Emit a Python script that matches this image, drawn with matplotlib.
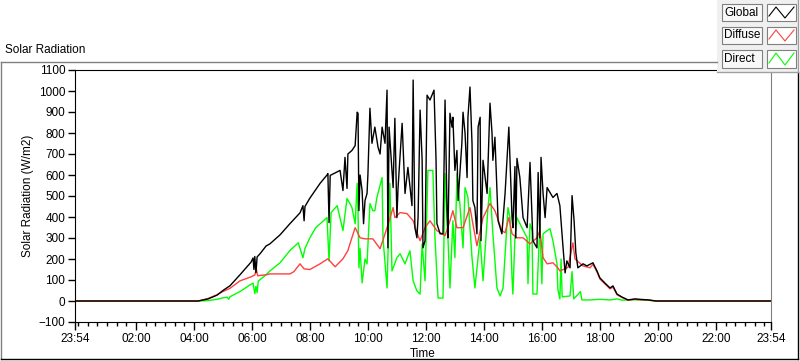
import matplotlib
matplotlib.use('Agg')
import matplotlib.pyplot as plt
from matplotlib.lines import Line2D
from matplotlib.patches import Rectangle
from matplotlib.ticker import FixedLocator

plt.rcParams['font.family'] = ['Liberation Sans', 'DejaVu Sans']
plt.rcParams['font.size'] = 8.5

# time of day in hours (-0.1 = 23:54 of the previous day), radiation in W/m2
GLOBAL_T = [-0.1, 4.15, 4.49, 4.80, 5.00, 5.24, 5.59, 5.97, 6.04, 6.07, 6.10, 6.14, 6.18, 6.28,
            6.49, 6.62, 6.97, 7.31, 7.66, 7.76, 7.80, 7.83, 8.00, 8.35, 8.59, 8.62, 8.66, 8.70,
            8.87, 9.04, 9.14, 9.21, 9.28, 9.31, 9.45, 9.56, 9.63, 9.66, 9.69, 9.73, 9.80, 9.85,
            9.90, 9.97, 10.00, 10.07, 10.14, 10.24, 10.35, 10.42, 10.49, 10.59, 10.66, 10.69,
            10.73, 10.87, 10.93, 11.00, 11.04, 11.18, 11.28, 11.38, 11.52, 11.56, 11.62, 11.69,
            11.73, 11.80, 11.87, 11.90, 11.97, 12.04, 12.14, 12.28, 12.35, 12.38, 12.49, 12.59,
            12.66, 12.73, 12.76, 12.83, 12.90, 12.93, 13.00, 13.07, 13.11, 13.24, 13.28, 13.35,
            13.42, 13.45, 13.52, 13.59, 13.62, 13.69, 13.76, 13.80, 13.87, 13.90, 13.97, 14.11,
            14.21, 14.28, 14.31, 14.38, 14.49, 14.62, 14.73, 14.86, 14.97, 15.00, 15.07, 15.10,
            15.14, 15.24, 15.35, 15.49, 15.59, 15.69, 15.83, 15.87, 15.93, 15.97, 16.04, 16.11,
            16.18, 16.28, 16.38, 16.52, 16.62, 16.73, 16.80, 16.86, 16.97, 17.04, 17.11, 17.17,
            17.24, 17.42, 17.55, 17.76, 17.90, 18.00, 18.17, 18.35, 18.45, 18.59, 18.76, 18.97,
            19.21, 19.38, 19.69, 19.93, 23.9]
GLOBAL_W = [0, 0, 10, 28, 50, 72, 125, 185, 205, 150, 212, 135, 210, 225,
            262, 272, 315, 368, 420, 454, 382, 450, 490, 560, 600, 607, 373, 598,
            610, 622, 526, 684, 536, 700, 717, 740, 899, 894, 430, 600, 526, 368,
            478, 512, 600, 918, 751, 828, 732, 700, 828, 751, 1004, 253,
            828, 540, 870, 397, 540, 846, 512, 636, 454, 1052, 349, 301,
            397, 909, 670, 253, 287, 980, 957, 1004, 670, 368, 320, 320,
            957, 430, 301, 894, 828, 875, 622, 717, 478, 751, 899, 799,
            588, 875, 1019, 751, 478, 445, 320, 828, 875, 287, 670, 512,
            942, 799, 670, 780, 382, 320, 512, 828, 397, 349, 640, 300,
            679, 588, 397, 349, 660, 287, 253, 612, 300, 684, 512, 397,
            540, 516, 493, 512, 454, 253, 134, 191, 158, 502, 382, 230,
            158, 177, 167, 182, 143, 110, 86, 62, 72, 33, 19, 5,
            10, 8, 5, 0, 0]

DIFFUSE_T = [-0.1, 4.15, 4.49, 4.80, 5.00, 5.24, 5.59, 5.97, 6.10, 6.15, 6.20, 6.49, 6.62, 7.31,
             7.45, 7.66, 7.80, 8.00, 8.35, 8.62, 8.87, 9.14, 9.31, 9.38, 9.56, 9.73, 9.90, 10.17,
             10.42, 10.66, 10.87, 10.93, 11.11, 11.35, 11.56, 11.73, 11.80, 11.97, 12.14, 12.38,
             12.66, 12.83, 12.93, 13.07, 13.28, 13.52, 13.62, 13.76, 13.97, 14.21, 14.38, 14.62,
             14.73, 14.86, 14.97, 15.14, 15.35, 15.59, 15.83, 15.93, 16.04, 16.18, 16.38, 16.55,
             16.62, 16.90, 17.07, 17.14, 17.42, 17.66, 17.76, 17.90, 18.00, 18.17, 18.35, 18.45,
             18.59, 18.76, 18.97, 19.21, 19.38, 19.69, 19.93, 23.9]
DIFFUSE_W = [0, 0, 12, 30, 45, 60, 96, 115, 124, 153, 120, 125, 129, 129,
             140, 177, 153, 150, 177, 201, 163, 201, 240, 272, 349, 301, 296, 296,
             249, 349, 445, 397, 421, 416, 382, 311, 287, 349, 382, 335,
             311, 382, 430, 349, 349, 445, 368, 263, 397, 464, 430, 335,
             325, 397, 320, 301, 301, 272, 301, 335, 206, 177, 182, 158,
             143, 160, 277, 200, 167, 158, 175, 138, 105, 82, 58, 66,
             30, 17, 4, 8, 6, 4, 0, 0]

DIRECT_T = [-0.1, 4.15, 4.49, 4.80, 5.00, 5.15, 5.20, 5.24, 5.59, 5.97, 6.04, 6.10, 6.14, 6.18,
            6.22, 6.49, 6.62, 6.97, 7.31, 7.60, 7.76, 7.83, 8.00, 8.20, 8.59, 8.66, 8.73, 8.94,
            9.14, 9.28, 9.38, 9.45, 9.56, 9.63, 9.66, 9.69, 9.73, 9.80, 9.90, 9.97, 10.07, 10.17,
            10.24, 10.31, 10.49, 10.52, 10.66, 10.76, 10.83, 11.00, 11.11, 11.28, 11.45, 11.56,
            11.69, 11.80, 11.87, 11.97, 12.07, 12.24, 12.31, 12.42, 12.59, 12.66, 12.76, 12.83,
            12.93, 13.00, 13.07, 13.17, 13.28, 13.35, 13.45, 13.59, 13.69, 13.87, 13.97, 14.14,
            14.21, 14.31, 14.45, 14.56, 14.66, 14.83, 14.90, 14.97, 15.00, 15.07, 15.14, 15.31,
            15.49, 15.52, 15.59, 15.66, 15.69, 15.83, 15.93, 16.00, 16.04, 16.18, 16.28, 16.38,
            16.52, 16.55, 16.62, 16.66, 16.70, 16.97, 17.04, 17.10, 17.33, 17.38, 17.66, 18.00,
            18.35, 18.59, 18.76, 19.21, 19.69, 19.93, 23.9]
DIRECT_W = [0, 0, 2, 8, 15, 18, 8, 20, 45, 80, 85, 35, 70, 40,
            95, 125, 143, 182, 240, 277, 206, 250, 301, 349, 397, 191, 421, 454,
            335, 488, 464, 445, 368, 560, 420, 158, 250, 86, 200, 177, 464, 430,
            430, 493, 588, 301, 62, 560, 143, 206, 225, 177, 239, 96,
            48, 33, 272, 96, 622, 622, 311, 14, 14, 607, 301, 62,
            382, 206, 607, 464, 253, 540, 493, 206, 62, 301, 96, 445,
            540, 320, 62, 24, 62, 445, 397, 110, 33, 301, 397, 349,
            301, 82, 368, 335, 33, 33, 368, 82, 320, 335, 344, 287,
            177, 57, 10, 200, 20, 24, 140, 10, 45, 5, 5, 8,
            5, 10, 4, 6, 3, 0, 0]

X_MAJOR = [-0.1, 2, 4, 6, 8, 10, 12, 14, 16, 18, 20, 22, 23.9]
X_LABELS = ['23:54', '02:00', '04:00', '06:00', '08:00', '10:00', '12:00',
            '14:00', '16:00', '18:00', '20:00', '22:00', '23:54']
Y_TICKS = list(range(-100, 1101, 100))

W, H = 800, 361
fig = plt.figure(figsize=(W / 100, H / 100), dpi=100)
fig.patch.set_facecolor('white')


def fx(x):
    return x / W


def fy(y):
    return 1 - y / H


ax = fig.add_axes([fx(75), fy(322), (771 - 75) / W, (322 - 70) / H])
ax.plot(DIRECT_T, DIRECT_W, color='#00ff00', lw=1.0)
ax.plot(DIFFUSE_T, DIFFUSE_W, color='#ff4040', lw=1.0)
ax.plot(GLOBAL_T, GLOBAL_W, color='black', lw=1.0)

ax.set_xlim(-0.1, 23.9)
ax.set_ylim(-100, 1100)
ax.xaxis.set_major_locator(FixedLocator(X_MAJOR))
ax.set_xticklabels(X_LABELS)
ax.xaxis.set_minor_locator(FixedLocator([m / 60 for m in range(0, 1440, 20)]))
ax.set_yticks(Y_TICKS)
ax.tick_params(axis='x', which='major', direction='out', length=6, width=1, pad=2, labelsize=8.5)
ax.tick_params(axis='x', which='minor', direction='out', length=3, width=1)
ax.tick_params(axis='y', direction='out', length=5, width=1, pad=2, labelsize=8.5)
ax.spines['right'].set_color('#808080')
for s in ['left', 'bottom', 'top']:
    ax.spines[s].set_color('black')
ax.set_xlabel('Time', labelpad=2)
ax.set_ylabel('Solar Radiation (W/m2)', labelpad=3)

# outer frame of the graph control
fig.add_artist(Line2D([fx(1), fx(717)], [fy(62), fy(62)], color='#808080', lw=1))
fig.add_artist(Line2D([fx(1), fx(1)], [fy(62), fy(359)], color='#808080', lw=1))
fig.add_artist(Line2D([fx(1), fx(798)], [fy(359), fy(359)], color='black', lw=1))
fig.add_artist(Line2D([fx(798), fx(798)], [fy(72), fy(359)], color='black', lw=1))
fig.text(fx(5), fy(50), 'Solar Radiation', ha='left', va='center', fontsize=8.5)

# legend panel
fig.add_artist(Rectangle((fx(717), fy(72)), 82 / W, 72 / H, transform=fig.transFigure,
                         facecolor='#f0f0f0', edgecolor='none'))
fig.add_artist(Line2D([fx(717), fx(798)], [fy(72), fy(72)], color='#a0a0a0', lw=1))
fig.add_artist(Line2D([fx(798), fx(798)], [fy(0), fy(72)], color='#a0a0a0', lw=1))
rows = [('Global', 'black', 4, 21), ('Diffuse', '#ff4040', 27, 44), ('Direct', '#00ff00', 50, 68)]
for name, col, top, bot in rows:
    fig.add_artist(Rectangle((fx(722), fy(bot)), 40 / W, (bot - top) / H, transform=fig.transFigure,
                             facecolor='#f8f8f8', edgecolor='#808080', lw=0.8))
    fig.text(fx(724), fy((top + bot) / 2), name, ha='left', va='center', fontsize=8.5)
    fig.add_artist(Rectangle((fx(767), fy(bot)), 29 / W, (bot - top) / H, transform=fig.transFigure,
                             facecolor='white', edgecolor='#808080', lw=0.8))
    zx = [769, 776, 785, 794]
    zy = [bot - 5, top + 3, bot - 3, top + 3]
    fig.add_artist(Line2D([fx(v) for v in zx], [fy(v) for v in zy], color=col, lw=0.8))

fig.savefig('out.png', dpi=100)
